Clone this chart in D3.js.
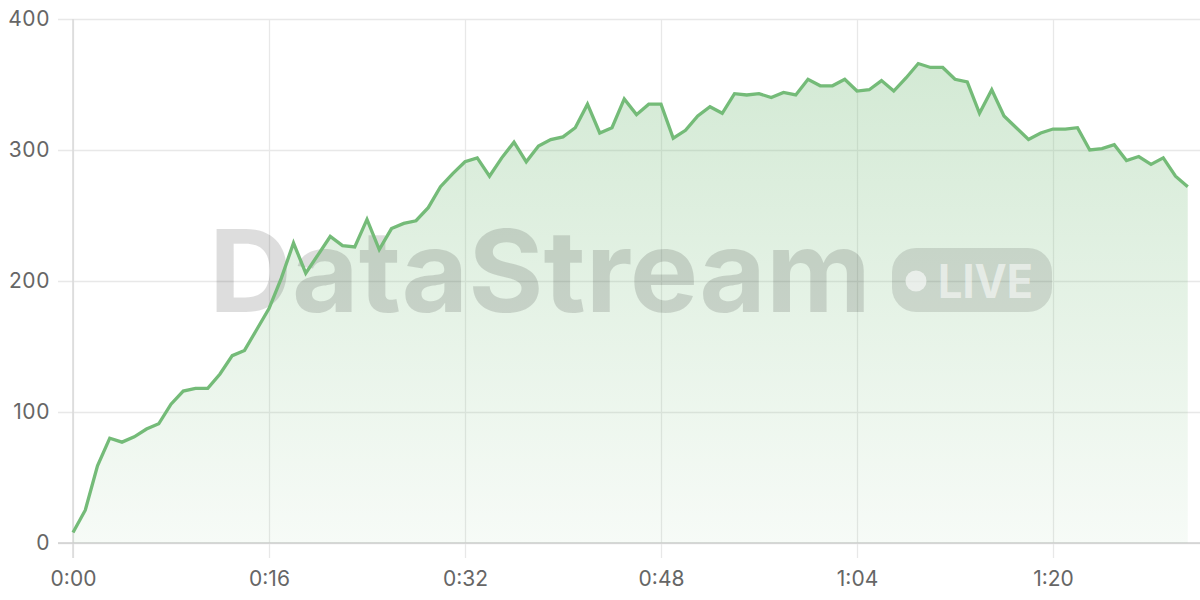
<!DOCTYPE html>
<html>
<head>
<meta charset="utf-8">
<script src="https://cdn.jsdelivr.net/npm/d3@7"></script>
<style>
  html, body { margin: 0; padding: 0; background: #ffffff; }
  svg { display: block; }
  text { font-family: Inter, "Noto Sans", "DejaVu Sans", sans-serif; }
</style>
</head>
<body>
<svg id="chart" width="1200" height="600"></svg>
<script>
// Data: one reading per second (seconds 0..91)
const values = [
  8, 25, 59, 80, 77, 81, 87, 91, 106, 116,
  118, 118, 129, 143, 147, 163, 179, 202, 229, 206,
  220, 234, 227, 226, 247, 224, 240, 244, 246, 256,
  272, 282, 291, 294, 280, 294, 306, 291, 303, 308,
  310, 317, 335, 313, 317, 339, 327, 335, 335, 309,
  315, 326, 333, 328, 343, 342, 343, 340, 344, 342,
  354, 349, 349, 354, 345, 346, 353, 345, 355, 366,
  363, 363, 354, 352, 328, 346, 326, 317, 308, 313,
  316, 316, 317, 300, 301, 304, 292, 295, 289, 294,
  280, 272
];
const seconds = values.map((_, i) => i);
const xTicks = [0, 16, 32, 48, 64, 80];
const yTicks = [0, 100, 200, 300, 400];
const watermarkText = "DataStream";
const badgeText = "LIVE";

const fmtTime = s => Math.floor(s / 60) + ":" + String(s % 60).padStart(2, "0");

const svg = d3.select("#chart");
const x = d3.scaleLinear().domain([0, 92]).range([73, 1200]);
const y = d3.scaleLinear().domain([0, 400]).range([543, 19]);

// Gradient for area
const defs = svg.append("defs");
const grad = defs.append("linearGradient")
  .attr("id", "areaGrad").attr("gradientUnits", "userSpaceOnUse")
  .attr("x1", 0).attr("x2", 0).attr("y1", y(d3.max(values))).attr("y2", y(0));
grad.append("stop").attr("offset", "0%").attr("stop-color", "#76bc7a").attr("stop-opacity", 0.32);
grad.append("stop").attr("offset", "100%").attr("stop-color", "#76bc7a").attr("stop-opacity", 0.06);

// Y axis with gridlines
const yAxis = svg.append("g")
  .attr("transform", `translate(${x(0)},0)`)
  .call(d3.axisLeft(y).tickValues(yTicks).tickSize(-(1200 - x(0))).tickPadding(23));
yAxis.select(".domain").remove();
yAxis.selectAll(".tick line").attr("stroke", "#e8e8e8").attr("stroke-width", 1.3).attr("x1", -15);
yAxis.selectAll(".tick text").attr("font-size", 21).attr("fill", "#666").attr("x", -23)
  .attr("letter-spacing", 0.6);

// X axis with gridlines
const xAxis = svg.append("g")
  .attr("transform", `translate(0,${y(0)})`)
  .call(d3.axisBottom(x).tickValues(xTicks).tickFormat(fmtTime).tickSize(-(y(0) - y(400))).tickPadding(28));
xAxis.select(".domain").remove();
xAxis.selectAll(".tick line").attr("stroke", "#e8e8e8").attr("stroke-width", 1.3).attr("y1", 15);
xAxis.selectAll(".tick text").attr("font-size", 21).attr("fill", "#666");

// axis lines
svg.append("line").attr("x1", x(0)).attr("x2", x(0)).attr("y1", y(400)).attr("y2", y(0) + 15)
  .attr("stroke", "#dadada").attr("stroke-width", 1.5);
svg.append("line").attr("x1", x(0) - 15).attr("x2", 1200).attr("y1", y(0)).attr("y2", y(0))
  .attr("stroke", "#cfcfcf").attr("stroke-width", 1.6);

// Area
const area = d3.area().x((d, i) => x(seconds[i])).y0(y(0)).y1(d => y(d));
svg.append("path").datum(values).attr("d", area).attr("fill", "url(#areaGrad)");

// Watermark
const wm = svg.append("g");
wm.append("text").text(watermarkText)
  .attr("x", 209).attr("y", 312)
  .attr("font-family", "'Liberation Sans', Arial, sans-serif")
  .attr("font-weight", 700).attr("font-size", 114)
  .attr("textLength", 662).attr("lengthAdjust", "spacingAndGlyphs")
  .attr("fill", "rgba(0,0,0,0.135)");
wm.append("rect").attr("x", 892).attr("y", 248).attr("width", 160).attr("height", 64).attr("rx", 24)
  .attr("fill", "rgba(0,0,0,0.115)");
wm.append("circle").attr("cx", 916).attr("cy", 281).attr("r", 10.5).attr("fill", "rgba(255,255,255,0.6)");
wm.append("text").text(badgeText)
  .attr("x", 938).attr("y", 298)
  .attr("font-family", "'Liberation Sans', Arial, sans-serif")
  .attr("font-weight", 700).attr("font-size", 47)
  .attr("textLength", 95).attr("lengthAdjust", "spacingAndGlyphs")
  .attr("fill", "rgba(255,255,255,0.55)");

// Line
const line = d3.line().x((d, i) => x(seconds[i])).y(d => y(d));
svg.append("path").datum(values).attr("d", line)
  .attr("fill", "none").attr("stroke", "#74bb78").attr("stroke-width", 3.3)
  .attr("stroke-linejoin", "miter");
</script>
</body>
</html>
